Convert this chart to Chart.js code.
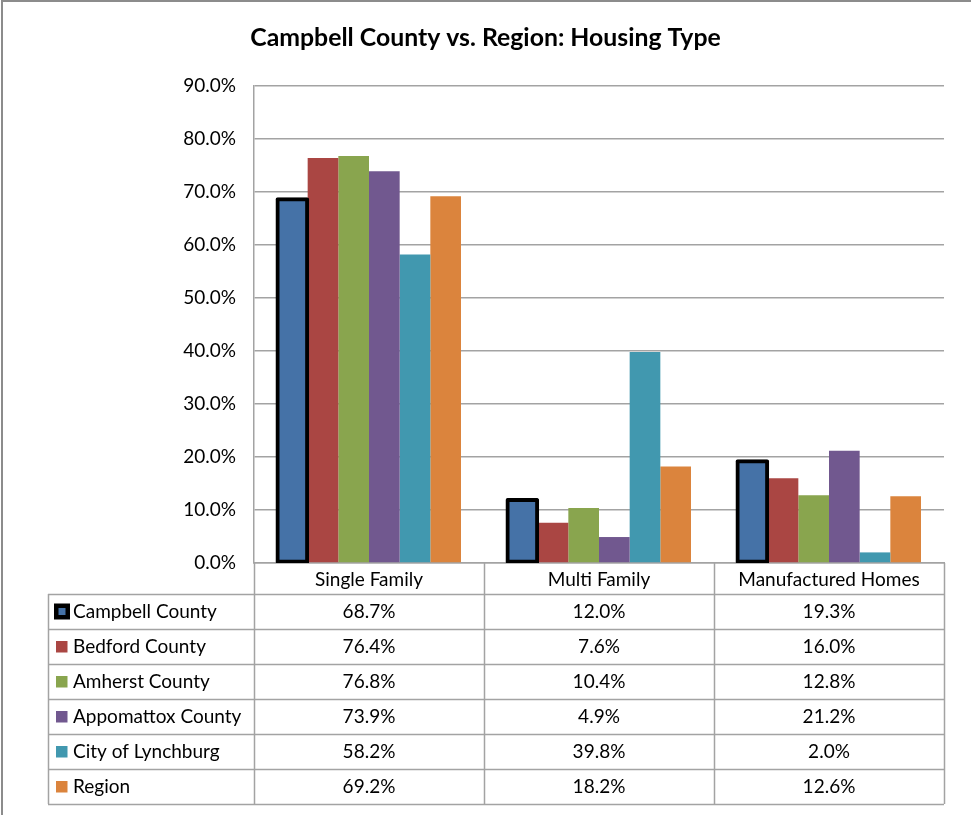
<!DOCTYPE html>
<html>
<head>
<meta charset="utf-8">
<script src="https://cdn.jsdelivr.net/npm/chart.js@4.4.0/dist/chart.umd.min.js"></script>
<style>
  html, body { margin: 0; padding: 0; background: #fff; }
  canvas { display: block; }
</style>
</head>
<body>
<canvas id="myChart" width="971" height="815"></canvas>
<script>
// categorias e séries (valores em %)
var categories = ['Single Family', 'Multi Family', 'Manufactured Homes'];
var seriesNames = ['Campbell County', 'Bedford County', 'Amherst County', 'Appomattox County', 'City of Lynchburg', 'Region'];
var campbell = [68.7, 12.0, 19.3];
var bedford = [76.4, 7.6, 16.0];
var amherst = [76.8, 10.4, 12.8];
var appomattox = [73.9, 4.9, 21.2];
var lynchburg = [58.2, 39.8, 2.0];
var region = [69.2, 18.2, 12.6];
var yMin = 0, yMax = 90, yStep = 10;

var seriesValues = [campbell, bedford, amherst, appomattox, lynchburg, region];
var seriesColors = ['#4572A7', '#AA4643', '#89A54E', '#71588F', '#4198AF', '#DB843D'];

var FONT = 'Lato, "Liberation Sans", sans-serif';
var LINE = '#a3a3a3';

function pct(v) { return v.toFixed(1) + '%'; }

// Moldura + tabela de dados desenhada abaixo do eixo x
var dataTablePlugin = {
    id: 'dataTable',
    beforeDraw: function (chart) {
        var ctx = chart.ctx;
        ctx.save();
        ctx.strokeStyle = '#8c8c8c';
        ctx.lineWidth = 2;
        ctx.beginPath();
        ctx.moveTo(2, chart.height);
        ctx.lineTo(2, 1);
        ctx.lineTo(chart.width, 1);
        ctx.stroke();
        ctx.restore();
    },
    afterDraw: function (chart) {
        var ctx = chart.ctx;
        var area = chart.chartArea;
        var xs = chart.scales.x;
        var colW = xs.width / categories.length;
        var headerBottom = area.bottom + 31;
        var rowH = 35;
        var tableLeft = 48;
        var tableBottom = headerBottom + rowH * seriesNames.length;

        ctx.save();
        ctx.strokeStyle = LINE;
        ctx.lineWidth = 1.5;
        ctx.beginPath();
        // linhas verticais das colunas
        for (var c = 0; c <= categories.length; c++) {
            var lx = Math.round(area.left + c * colW) + 0.5;
            ctx.moveTo(lx, area.bottom);
            ctx.lineTo(lx, tableBottom);
        }
        ctx.moveTo(tableLeft + 0.5, headerBottom);
        ctx.lineTo(tableLeft + 0.5, tableBottom);
        // linhas horizontais
        for (var r = 0; r <= seriesNames.length; r++) {
            var ly = Math.round(headerBottom + r * rowH) + 0.5;
            ctx.moveTo(tableLeft, ly);
            ctx.lineTo(area.right, ly);
        }
        ctx.stroke();

        ctx.font = '19px ' + FONT;
        ctx.fillStyle = '#000';
        ctx.textBaseline = 'middle';
        for (var s = 0; s < seriesNames.length; s++) {
            var cy = headerBottom + s * rowH + rowH / 2;
            // marcador da legenda
            if (s === 0) {
                ctx.fillStyle = '#000';
                ctx.fillRect(54, cy - 8, 16, 16);
                ctx.fillStyle = seriesColors[s];
                ctx.fillRect(58.5, cy - 3.5, 7, 7);
            } else {
                ctx.fillStyle = seriesColors[s];
                ctx.fillRect(56, cy - 5.5, 11.5, 11.5);
            }
            ctx.fillStyle = '#000';
            ctx.textAlign = 'left';
            ctx.fillText(seriesNames[s], 73, cy);
            ctx.textAlign = 'center';
            for (var k = 0; k < categories.length; k++) {
                ctx.fillText(pct(seriesValues[s][k]), xs.getPixelForValue(k), cy);
            }
        }
        ctx.restore();
    }
};

var datasets = seriesNames.map(function (name, i) {
    var ds = {
        label: name,
        data: seriesValues[i],
        backgroundColor: seriesColors[i],
        borderWidth: 0
    };
    if (i === 0) {
        ds.borderColor = '#000';
        ds.borderWidth = 4;
        ds.borderSkipped = false;
        ds.borderRadius = 2;
        ds.inflateAmount = 1.5;
    }
    return ds;
});

var config = {
    type: 'bar',
    data: {
        labels: categories,
        datasets: datasets
    },
    options: {
        responsive: false,
        animation: false,
        datasets: {
            bar: { categoryPercentage: 0.8, barPercentage: 1.0 }
        },
        layout: { padding: 0 },
        plugins: {
            legend: { display: false },
            tooltip: { enabled: false },
            title: {
                display: true,
                text: 'Campbell County vs. Region: Housing Type',
                color: '#000',
                font: { family: FONT, size: 24.8, weight: 'bold' },
                padding: { top: 23, bottom: 33.2 }
            }
        },
        scales: {
            x: {
                grid: { display: false },
                border: { display: true, color: LINE, width: 1.5 },
                ticks: { color: '#000', font: { family: FONT, size: 19 }, padding: -3, maxRotation: 0 },
                afterFit: function (scale) { scale.height = 252; }
            },
            y: {
                min: yMin,
                max: yMax,
                grid: { color: LINE, lineWidth: 1.5, drawTicks: false },
                border: { display: true, color: LINE, width: 1.5 },
                ticks: {
                    stepSize: yStep,
                    color: '#000',
                    font: { family: FONT, size: 19 },
                    padding: 18,
                    callback: function (v) { return pct(v); }
                },
                afterFit: function (scale) { scale.width = 254; }
            },
            yRight: {
                position: 'right',
                display: true,
                grid: { display: false },
                border: { display: false },
                ticks: { display: false },
                afterFit: function (scale) { scale.width = 27; }
            }
        }
    },
    plugins: [dataTablePlugin]
};

var ctx = document.getElementById('myChart').getContext('2d');
var chart = new Chart(ctx, config);
</script>
</body>
</html>
